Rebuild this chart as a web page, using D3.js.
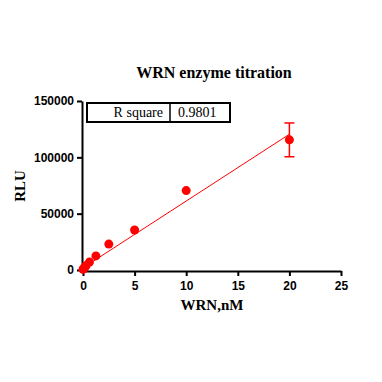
<!DOCTYPE html>
<html><head><meta charset="utf-8">
<script src="https://cdn.jsdelivr.net/npm/d3@7"></script>
<style>body{margin:0;background:#fff}</style>
</head><body>
<svg id="c" width="382" height="382"></svg>
<script>
const concentrations = [0, 0.078, 0.156, 0.3125, 0.625, 1.25, 2.5, 5, 10, 20];
const rluMeans = [500, 1200, 2200, 4000, 7000, 12500, 23000, 35500, 70500, 115500];
const rluErrors = [0, 0, 0, 0, 0, 0, 0, 0, 0, 15000];
const xTicks = [0, 5, 10, 15, 20, 25];
const yTicks = [0, 50000, 100000, 150000];
const fitSlope = 5930;
const fitIntercept = 1900;
const fitRange = [0, 20];
const rSquareLabel = "R square";
const rSquareValue = "0.9801";

const svg = d3.select("#c");
const x = d3.scaleLinear().domain([0, 25]).range([83, 341]);
const y = d3.scaleLinear().domain([0, 150000]).range([270, 101]);
const red = "#ff0000";

// axes
const xAxis = svg.append("g").attr("transform", "translate(0,271)")
  .call(d3.axisBottom(x).tickValues(xTicks).tickSize(5).tickSizeOuter(0).tickFormat(d3.format("d")));
const yAxis = svg.append("g").attr("transform", "translate(82,0)")
  .call(d3.axisLeft(y).tickValues(yTicks).tickSize(5).tickSizeOuter(0).tickFormat(d3.format("d")));
[xAxis, yAxis].forEach(a => {
  a.select(".domain").attr("stroke", "#000").attr("stroke-width", 2);
  a.selectAll(".tick line").attr("stroke", "#000").attr("stroke-width", 2);
  a.selectAll(".tick text").attr("fill", "#000")
    .style("font-family", "Liberation Sans, Arial, sans-serif")
    .style("font-weight", "bold").style("font-size", "12px");
});
xAxis.selectAll(".tick text").attr("dy", "0.9em");

// fit line
svg.append("line")
  .attr("x1", x(fitRange[0])).attr("y1", y(fitIntercept + fitSlope * fitRange[0]))
  .attr("x2", x(fitRange[1])).attr("y2", y(fitIntercept + fitSlope * fitRange[1]))
  .attr("stroke", red).attr("stroke-width", 1);

// error bars
const data = concentrations.map((c, i) => ({c, m: rluMeans[i], e: rluErrors[i]}));
data.filter(d => d.e > 0).forEach(d => {
  const g = svg.append("g").attr("stroke", red).attr("stroke-width", 1.5);
  g.append("line").attr("x1", x(d.c)).attr("x2", x(d.c)).attr("y1", y(d.m - d.e)).attr("y2", y(d.m + d.e));
  g.append("line").attr("x1", x(d.c) - 5).attr("x2", x(d.c) + 5).attr("y1", y(d.m + d.e)).attr("y2", y(d.m + d.e));
  g.append("line").attr("x1", x(d.c) - 5).attr("x2", x(d.c) + 5).attr("y1", y(d.m - d.e)).attr("y2", y(d.m - d.e));
});

// points
svg.selectAll("circle.pt").data(data).enter().append("circle")
  .attr("cx", d => x(d.c)).attr("cy", d => y(d.m)).attr("r", 4.5).attr("fill", red);

// R square table
const serif = "Liberation Serif, Times New Roman, serif";
const tb = svg.append("g");
tb.append("rect").attr("x", 87).attr("y", 103).attr("width", 143).attr("height", 19)
  .attr("fill", "#fff").attr("stroke", "#000").attr("stroke-width", 2);
tb.append("line").attr("x1", 170).attr("x2", 170).attr("y1", 103).attr("y2", 122)
  .attr("stroke", "#000").attr("stroke-width", 1.5);
tb.append("text").attr("x", 163).attr("y", 117).attr("text-anchor", "end")
  .style("font-family", serif).style("font-size", "14px").text(rSquareLabel);
tb.append("text").attr("x", 178).attr("y", 117)
  .style("font-family", serif).style("font-size", "14px").text(rSquareValue);

// title and labels
svg.append("text").attr("x", 214).attr("y", 78).attr("text-anchor", "middle")
  .style("font-family", serif).style("font-weight", "bold").style("font-size", "16px").text("WRN enzyme titration");
svg.append("text").attr("x", 212).attr("y", 310).attr("text-anchor", "middle")
  .style("font-family", serif).style("font-weight", "bold").style("font-size", "15px").text("WRN,nM");
svg.append("text").attr("transform", "translate(25,186) rotate(-90)").attr("text-anchor", "middle")
  .style("font-family", serif).style("font-weight", "bold").style("font-size", "15px").text("RLU");
</script>
</body></html>
